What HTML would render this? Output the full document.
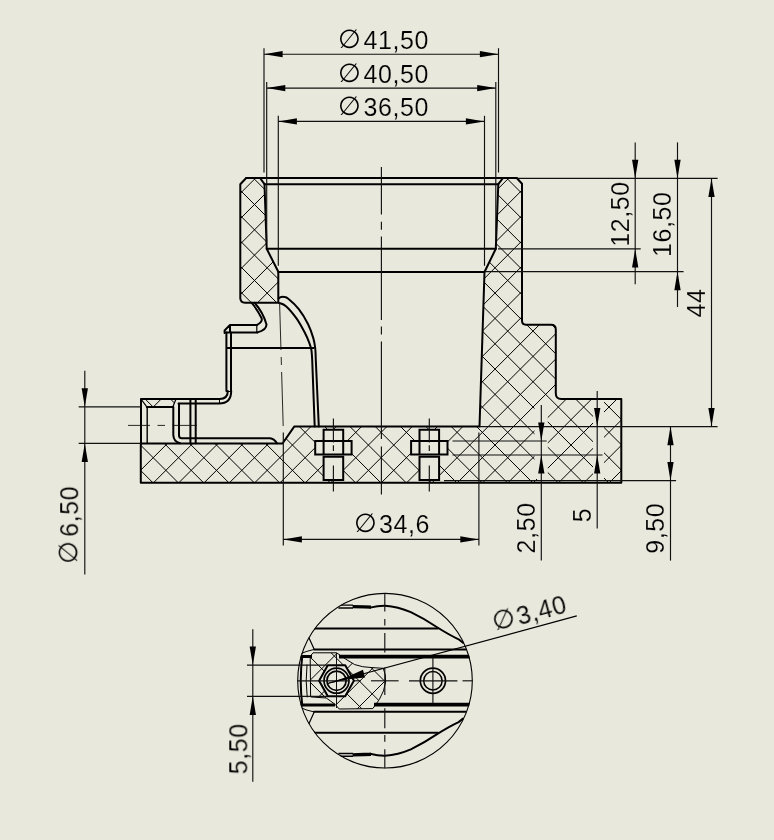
<!DOCTYPE html>
<html lang="en"><head><meta charset="utf-8"><title>Drawing</title>
<style>
html,body{margin:0;padding:0;background:#e8e8dc;}
body{width:774px;height:840px;overflow:hidden;}
svg{display:block;font-family:"Liberation Sans",sans-serif;fill:#000;}
text{stroke:#e8e8dc;stroke-width:0.15px;}
</style></head><body>
<svg width="774" height="840" viewBox="0 0 774 840">
<rect width="774" height="840" fill="#e8e8dc"/>
<defs><clipPath id="hc"><path d="M246.2,178 L260,178 L264.5,184.2 L266.7,248.8 L278.3,271.8 L278.3,302.7 L245,302.7 Q240.3,302.7 240.3,298 L240.3,184.2 Z"/><path d="M503,178 L516.7,178 L522,183.7 L522,320.5 Q522,324.7 526,324.7 L551,324.7 Q555.8,324.7 555.8,329.5 L555.8,393.5 Q555.8,399 561.3,399 L621.3,399 L621.3,482.7 L140.8,482.7 L140.8,443.5 L282.5,443.5 L294.2,426.6 L479.5,426.6 L484.5,272 L495.8,248.8 L498.3,184.2 Z"/><path d="M141,399 L176,399 L172.8,406.9 L146.8,406.9 Z"/></clipPath></defs>
<g clip-path="url(#hc)"><path d="M0,-708.30 L774,65.70 M0,-682.98 L774,91.02 M0,-657.66 L774,116.34 M0,-632.34 L774,141.66 M0,-607.02 L774,166.98 M0,-581.70 L774,192.30 M0,-556.38 L774,217.62 M0,-531.06 L774,242.94 M0,-505.74 L774,268.26 M0,-480.42 L774,293.58 M0,-455.10 L774,318.90 M0,-429.78 L774,344.22 M0,-404.46 L774,369.54 M0,-379.14 L774,394.86 M0,-353.82 L774,420.18 M0,-328.50 L774,445.50 M0,-303.18 L774,470.82 M0,-277.86 L774,496.14 M0,-252.54 L774,521.46 M0,-227.22 L774,546.78 M0,-201.90 L774,572.10 M0,-176.58 L774,597.42 M0,-151.26 L774,622.74 M0,-125.94 L774,648.06 M0,-100.62 L774,673.38 M0,-75.30 L774,698.70 M0,-49.98 L774,724.02 M0,-24.66 L774,749.34 M0,0.66 L774,774.66 M0,25.98 L774,799.98 M0,51.30 L774,825.30 M0,76.62 L774,850.62 M0,101.94 L774,875.94 M0,127.26 L774,901.26 M0,152.58 L774,926.58 M0,177.90 L774,951.90 M0,203.22 L774,977.22 M0,228.54 L774,1002.54 M0,253.86 L774,1027.86 M0,279.18 L774,1053.18 M0,304.50 L774,1078.50 M0,329.82 L774,1103.82 M0,355.14 L774,1129.14 M0,380.46 L774,1154.46 M0,405.78 L774,1179.78 M0,431.10 L774,1205.10 M0,456.42 L774,1230.42 M0,481.74 L774,1255.74 M0,507.06 L774,1281.06 M0,532.38 L774,1306.38 M0,557.70 L774,1331.70 M0,583.02 L774,1357.02 M0,608.34 L774,1382.34 M0,633.66 L774,1407.66 M0,658.98 L774,1432.98 M0,684.30 L774,1458.30 M0,709.62 L774,1483.62 M0,734.94 L774,1508.94 M0,760.26 L774,1534.26 M0,785.58 L774,1559.58 M0,810.90 L774,1584.90 M0,836.22 L774,1610.22 M0,861.54 L774,1635.54 M0,886.86 L774,1660.86 M0,912.18 L774,1686.18 M0,937.50 L774,1711.50 M0,962.82 L774,1736.82 M0,988.14 L774,1762.14 M0,1013.46 L774,1787.46 M0,1038.78 L774,1812.78 M0,1064.10 L774,1838.10 M0,1089.42 L774,1863.42 M0,1114.74 L774,1888.74 M0,1140.06 L774,1914.06 M0,1165.38 L774,1939.38 M0,1190.70 L774,1964.70 M0,1216.02 L774,1990.02 M0,1241.34 L774,2015.34 M0,1266.66 L774,2040.66 M0,1291.98 L774,2065.98 M0,-401.90 L774,-1175.90 M0,-376.58 L774,-1150.58 M0,-351.26 L774,-1125.26 M0,-325.94 L774,-1099.94 M0,-300.62 L774,-1074.62 M0,-275.30 L774,-1049.30 M0,-249.98 L774,-1023.98 M0,-224.66 L774,-998.66 M0,-199.34 L774,-973.34 M0,-174.02 L774,-948.02 M0,-148.70 L774,-922.70 M0,-123.38 L774,-897.38 M0,-98.06 L774,-872.06 M0,-72.74 L774,-846.74 M0,-47.42 L774,-821.42 M0,-22.10 L774,-796.10 M0,3.22 L774,-770.78 M0,28.54 L774,-745.46 M0,53.86 L774,-720.14 M0,79.18 L774,-694.82 M0,104.50 L774,-669.50 M0,129.82 L774,-644.18 M0,155.14 L774,-618.86 M0,180.46 L774,-593.54 M0,205.78 L774,-568.22 M0,231.10 L774,-542.90 M0,256.42 L774,-517.58 M0,281.74 L774,-492.26 M0,307.06 L774,-466.94 M0,332.38 L774,-441.62 M0,357.70 L774,-416.30 M0,383.02 L774,-390.98 M0,408.34 L774,-365.66 M0,433.66 L774,-340.34 M0,458.98 L774,-315.02 M0,484.30 L774,-289.70 M0,509.62 L774,-264.38 M0,534.94 L774,-239.06 M0,560.26 L774,-213.74 M0,585.58 L774,-188.42 M0,610.90 L774,-163.10 M0,636.22 L774,-137.78 M0,661.54 L774,-112.46 M0,686.86 L774,-87.14 M0,712.18 L774,-61.82 M0,737.50 L774,-36.50 M0,762.82 L774,-11.18 M0,788.14 L774,14.14 M0,813.46 L774,39.46 M0,838.78 L774,64.78 M0,864.10 L774,90.10 M0,889.42 L774,115.42 M0,914.74 L774,140.74 M0,940.06 L774,166.06 M0,965.38 L774,191.38 M0,990.70 L774,216.70 M0,1016.02 L774,242.02 M0,1041.34 L774,267.34 M0,1066.66 L774,292.66 M0,1091.98 L774,317.98 M0,1117.30 L774,343.30 M0,1142.62 L774,368.62 M0,1167.94 L774,393.94 M0,1193.26 L774,419.26 M0,1218.58 L774,444.58 M0,1243.90 L774,469.90 M0,1269.22 L774,495.22 M0,1294.54 L774,520.54 M0,1319.86 L774,545.86 M0,1345.18 L774,571.18 M0,1370.50 L774,596.50 M0,1395.82 L774,621.82 M0,1421.14 L774,647.14 M0,1446.46 L774,672.46 M0,1471.78 L774,697.78 M0,1497.10 L774,723.10 M0,1522.42 L774,748.42 M0,1547.74 L774,773.74 M0,1573.06 L774,799.06 M0,1598.38 L774,824.38" stroke="#000" stroke-width="1.0" fill="none"/>
<rect x="323.60" y="429.00" width="19.60" height="51.50" fill="#e8e8dc"/>
<rect x="315.00" y="440.80" width="36.80" height="13.40" fill="#e8e8dc"/>
<rect x="419.50" y="429.00" width="19.60" height="51.50" fill="#e8e8dc"/>
<rect x="410.90" y="440.80" width="36.80" height="13.40" fill="#e8e8dc"/>
<rect x="534.50" y="408.00" width="13.30" height="71.00" fill="#e8e8dc"/>
<rect x="593.00" y="400.00" width="11.00" height="79.00" fill="#e8e8dc"/>
</g>
<path d="M246.2,178 L260,178 L264.5,184.2 L266.7,248.8 L278.3,271.8 L278.3,302.7 L245,302.7 Q240.3,302.7 240.3,298 L240.3,184.2 Z" fill="none" stroke="#000" stroke-width="2.0" stroke-linejoin="round" stroke-linecap="round" />
<path d="M503,178 L516.7,178 L522,183.7 L522,320.5 Q522,324.7 526,324.7 L551,324.7 Q555.8,324.7 555.8,329.5 L555.8,393.5 Q555.8,399 561.3,399 L621.3,399 L621.3,482.7 L140.8,482.7 L140.8,443.5 L282.5,443.5 L294.2,426.6 L479.5,426.6 L484.5,272 L495.8,248.8 L498.3,184.2 Z" fill="none" stroke="#000" stroke-width="2.0" stroke-linejoin="round" stroke-linecap="round" />
<line x1="246.20" y1="178.00" x2="516.70" y2="178.00" stroke="#000" stroke-width="2.0" stroke-linecap="round"/>
<line x1="264.50" y1="184.20" x2="498.30" y2="184.20" stroke="#000" stroke-width="2.0" stroke-linecap="round"/>
<line x1="266.70" y1="248.80" x2="495.80" y2="248.80" stroke="#000" stroke-width="2.0" stroke-linecap="round"/>
<line x1="278.30" y1="272.00" x2="484.50" y2="272.00" stroke="#000" stroke-width="2.0" stroke-linecap="round"/>
<path d="M323.59999999999997,429.8 H343.2 V441 H323.59999999999997 Z" fill="none" stroke="#000" stroke-width="2.0" stroke-linejoin="miter" stroke-linecap="round" />
<path d="M315.2,441 H351.59999999999997 V454.4 H315.2 Z" fill="none" stroke="#000" stroke-width="2.0" stroke-linejoin="miter" stroke-linecap="round" />
<path d="M323.59999999999997,440.8 V454.2 M343.2,440.8 V454.2" fill="none" stroke="#000" stroke-width="2.0" stroke-linejoin="miter" stroke-linecap="round" />
<path d="M323.59999999999997,456.7 H343.2 V480 H323.59999999999997 Z" fill="none" stroke="#000" stroke-width="2.0" stroke-linejoin="miter" stroke-linecap="round" />
<line x1="333.40" y1="418.40" x2="333.40" y2="442.50" stroke="#111" stroke-width="1.15" stroke-linecap="butt"/>
<line x1="333.40" y1="445.30" x2="333.40" y2="451.00" stroke="#111" stroke-width="1.15" stroke-linecap="butt"/>
<line x1="333.40" y1="465.50" x2="333.40" y2="491.50" stroke="#111" stroke-width="1.15" stroke-linecap="butt"/>
<path d="M419.5,429.8 H439.1 V441 H419.5 Z" fill="none" stroke="#000" stroke-width="2.0" stroke-linejoin="miter" stroke-linecap="round" />
<path d="M411.1,441 H447.5 V454.4 H411.1 Z" fill="none" stroke="#000" stroke-width="2.0" stroke-linejoin="miter" stroke-linecap="round" />
<path d="M419.5,440.8 V454.2 M439.1,440.8 V454.2" fill="none" stroke="#000" stroke-width="2.0" stroke-linejoin="miter" stroke-linecap="round" />
<path d="M419.5,456.7 H439.1 V480 H419.5 Z" fill="none" stroke="#000" stroke-width="2.0" stroke-linejoin="miter" stroke-linecap="round" />
<line x1="429.30" y1="418.40" x2="429.30" y2="442.50" stroke="#111" stroke-width="1.15" stroke-linecap="butt"/>
<line x1="429.30" y1="445.30" x2="429.30" y2="451.00" stroke="#111" stroke-width="1.15" stroke-linecap="butt"/>
<line x1="429.30" y1="465.50" x2="429.30" y2="491.50" stroke="#111" stroke-width="1.15" stroke-linecap="butt"/>
<path d="M141,443.5 V399 H219.5 Q227.8,399 227.8,391" fill="none" stroke="#000" stroke-width="2.0" stroke-linejoin="round" stroke-linecap="round" />
<path d="M178.5,403.5 H219 Q231.2,403.5 231.2,391" fill="none" stroke="#000" stroke-width="2.0" stroke-linejoin="round" stroke-linecap="round" />
<path d="M146.8,406.9 H172.8" fill="none" stroke="#000" stroke-width="2.0" stroke-linejoin="round" stroke-linecap="round" />
<path d="M141,399 L146.8,406.9 M176,399 L172.8,406.9" fill="none" stroke="#000" stroke-width="1.2" stroke-linejoin="round" stroke-linecap="round" />
<path d="M147.2,406.9 V443.3" fill="none" stroke="#000" stroke-width="1.4" stroke-linejoin="round" stroke-linecap="round" />
<path d="M173.3,406.9 V435 Q173.6,441.6 180,443.3" fill="none" stroke="#000" stroke-width="2.0" stroke-linejoin="round" stroke-linecap="round" />
<path d="M179,403.8 V435.5 Q179,438.2 181.7,438.2 H270 Q274,438.6 277,443.3" fill="none" stroke="#000" stroke-width="2.0" stroke-linejoin="round" stroke-linecap="round" />
<path d="M190.4,399 V443.3 M195.7,399 V443.3" fill="none" stroke="#000" stroke-width="2.0" stroke-linejoin="round" stroke-linecap="round" />
<path d="M226.4,391 V332.5 M231,391 V332.5" fill="none" stroke="#000" stroke-width="2.0" stroke-linejoin="round" stroke-linecap="round" />
<path d="M226.4,391.5 H231" fill="none" stroke="#000" stroke-width="1" stroke-linejoin="round" stroke-linecap="round" />
<path d="M219.5,399 V403.5" fill="none" stroke="#000" stroke-width="1" stroke-linejoin="round" stroke-linecap="round" />
<path d="M224.6,333 V330.5 L230,324.9 H257 M230,325 V332.4 M226.4,332.4 H257.4" fill="none" stroke="#000" stroke-width="2.0" stroke-linejoin="round" stroke-linecap="round" />
<path d="M256.8,324.9 V332.4" fill="none" stroke="#000" stroke-width="1.2" stroke-linejoin="round" stroke-linecap="round" />
<path d="M257,324.9 Q263,322 261.5,318 Q257,309 251.5,302.7" fill="none" stroke="#000" stroke-width="2.0" stroke-linejoin="round" stroke-linecap="round" />
<path d="M257.4,332.4 Q266.5,330 266.5,324.5 Q263,312 254.5,302.7" fill="none" stroke="#000" stroke-width="2.0" stroke-linejoin="round" stroke-linecap="round" />
<line x1="226.40" y1="348.00" x2="314.50" y2="348.00" stroke="#000" stroke-width="1.9" stroke-linecap="butt"/>
<path d="M278.60,298.50 C278.90,298.28 279.50,297.45 280.40,297.20 C281.30,296.95 282.68,296.73 284.00,297.00 C285.32,297.27 285.83,296.78 288.30,298.80 C290.77,300.82 295.50,304.87 298.80,309.10 C302.10,313.33 305.68,319.37 308.10,324.20 C310.52,329.03 312.12,334.13 313.30,338.10 C314.48,342.07 314.78,344.35 315.20,348.00 C315.62,351.65 315.70,358.00 315.80,360.00 L318.8,426.5" fill="none" stroke="#000" stroke-width="2.0" stroke-linejoin="round" stroke-linecap="round" />
<path d="M279.00,302.90 C280.17,303.45 283.08,303.62 286.00,306.20 C288.92,308.78 293.40,314.05 296.50,318.40 C299.60,322.75 302.47,328.23 304.60,332.30 C306.73,336.37 308.17,339.85 309.30,342.80 C310.43,345.75 310.92,347.13 311.40,350.00 C311.88,352.87 312.07,358.33 312.20,360.00 L314.7,426.5" fill="none" stroke="#000" stroke-width="2.0" stroke-linejoin="round" stroke-linecap="round" />
<line x1="381.40" y1="167.10" x2="381.40" y2="214.60" stroke="#111" stroke-width="1.15" stroke-linecap="butt"/>
<line x1="381.40" y1="221.70" x2="381.40" y2="229.80" stroke="#111" stroke-width="1.15" stroke-linecap="butt"/>
<line x1="381.40" y1="236.50" x2="381.40" y2="319.90" stroke="#111" stroke-width="1.15" stroke-linecap="butt"/>
<line x1="381.40" y1="326.40" x2="381.40" y2="334.60" stroke="#111" stroke-width="1.15" stroke-linecap="butt"/>
<line x1="381.40" y1="341.40" x2="381.40" y2="438.90" stroke="#111" stroke-width="1.15" stroke-linecap="butt"/>
<line x1="381.40" y1="446.40" x2="381.40" y2="494.50" stroke="#111" stroke-width="1.15" stroke-linecap="butt"/>
<line x1="279.60" y1="303.00" x2="283.20" y2="426.00" stroke="#111" stroke-width="0.9" stroke-linecap="butt" stroke-dasharray="47 7 8 7 200"/>
<line x1="128.00" y1="425.40" x2="197.00" y2="425.40" stroke="#111" stroke-width="0.9" stroke-linecap="butt" stroke-dasharray="22 7.5 7.5 7.5 40"/>
<line x1="264.00" y1="48.20" x2="264.00" y2="172.50" stroke="#111" stroke-width="1.15" stroke-linecap="butt"/>
<line x1="498.50" y1="48.20" x2="498.50" y2="172.50" stroke="#111" stroke-width="1.15" stroke-linecap="butt"/>
<line x1="264.00" y1="54.20" x2="498.50" y2="54.20" stroke="#111" stroke-width="1.15" stroke-linecap="butt"/>
<polygon points="264.00,54.20 282.60,51.05 282.60,57.35" fill="#000"/>
<polygon points="498.50,54.20 479.90,57.35 479.90,51.05" fill="#000"/>
<line x1="266.70" y1="82.00" x2="266.70" y2="242.80" stroke="#111" stroke-width="1.15" stroke-linecap="butt"/>
<line x1="495.80" y1="82.00" x2="495.80" y2="242.80" stroke="#111" stroke-width="1.15" stroke-linecap="butt"/>
<line x1="266.70" y1="88.10" x2="495.80" y2="88.10" stroke="#111" stroke-width="1.15" stroke-linecap="butt"/>
<polygon points="266.70,88.10 285.30,84.95 285.30,91.25" fill="#000"/>
<polygon points="495.80,88.10 477.20,91.25 477.20,84.95" fill="#000"/>
<line x1="278.30" y1="115.80" x2="278.30" y2="265.80" stroke="#111" stroke-width="1.15" stroke-linecap="butt"/>
<line x1="484.50" y1="115.80" x2="484.50" y2="265.80" stroke="#111" stroke-width="1.15" stroke-linecap="butt"/>
<line x1="278.30" y1="121.40" x2="484.50" y2="121.40" stroke="#111" stroke-width="1.15" stroke-linecap="butt"/>
<polygon points="278.30,121.40 296.90,118.25 296.90,124.55" fill="#000"/>
<polygon points="484.50,121.40 465.90,124.55 465.90,118.25" fill="#000"/>
<line x1="283.30" y1="432.50" x2="283.30" y2="545.50" stroke="#111" stroke-width="1.15" stroke-linecap="butt"/>
<line x1="478.90" y1="432.50" x2="478.90" y2="545.50" stroke="#111" stroke-width="1.15" stroke-linecap="butt"/>
<line x1="283.30" y1="539.40" x2="478.90" y2="539.40" stroke="#111" stroke-width="1.15" stroke-linecap="butt"/>
<polygon points="283.30,539.40 301.90,536.25 301.90,542.55" fill="#000"/>
<polygon points="478.90,539.40 460.30,542.55 460.30,536.25" fill="#000"/>
<line x1="516.70" y1="178.40" x2="717.60" y2="178.40" stroke="#111" stroke-width="1.15" stroke-linecap="butt"/>
<line x1="498.00" y1="248.90" x2="640.70" y2="248.90" stroke="#111" stroke-width="1.15" stroke-linecap="butt"/>
<line x1="486.00" y1="271.60" x2="683.60" y2="271.60" stroke="#111" stroke-width="1.15" stroke-linecap="butt"/>
<line x1="479.50" y1="426.60" x2="717.60" y2="426.60" stroke="#111" stroke-width="1.15" stroke-linecap="butt"/>
<line x1="452.50" y1="441.00" x2="546.70" y2="441.00" stroke="#111" stroke-width="1.15" stroke-linecap="butt"/>
<line x1="452.50" y1="455.00" x2="602.50" y2="455.00" stroke="#111" stroke-width="1.15" stroke-linecap="butt"/>
<line x1="444.00" y1="480.60" x2="676.10" y2="480.60" stroke="#111" stroke-width="1.15" stroke-linecap="butt"/>
<line x1="635.20" y1="142.40" x2="635.20" y2="284.30" stroke="#111" stroke-width="1.15" stroke-linecap="butt"/>
<polygon points="635.20,178.40 632.05,159.80 638.35,159.80" fill="#000"/>
<polygon points="635.20,248.90 638.35,267.50 632.05,267.50" fill="#000"/>
<line x1="677.50" y1="142.40" x2="677.50" y2="307.00" stroke="#111" stroke-width="1.15" stroke-linecap="butt"/>
<polygon points="677.50,178.40 674.35,159.80 680.65,159.80" fill="#000"/>
<polygon points="677.50,271.60 680.65,290.20 674.35,290.20" fill="#000"/>
<line x1="711.50" y1="178.40" x2="711.50" y2="426.60" stroke="#111" stroke-width="1.15" stroke-linecap="butt"/>
<polygon points="711.50,178.40 714.65,197.00 708.35,197.00" fill="#000"/>
<polygon points="711.50,426.60 708.35,408.00 714.65,408.00" fill="#000"/>
<line x1="670.50" y1="426.60" x2="670.50" y2="560.60" stroke="#111" stroke-width="1.15" stroke-linecap="butt"/>
<polygon points="670.50,426.60 673.65,445.20 667.35,445.20" fill="#000"/>
<polygon points="670.50,480.60 667.35,462.00 673.65,462.00" fill="#000"/>
<line x1="597.20" y1="391.00" x2="597.20" y2="528.50" stroke="#111" stroke-width="1.15" stroke-linecap="butt"/>
<polygon points="597.20,426.60 594.05,408.00 600.35,408.00" fill="#000"/>
<polygon points="597.20,455.00 600.35,473.60 594.05,473.60" fill="#000"/>
<line x1="541.30" y1="405.00" x2="541.30" y2="560.60" stroke="#111" stroke-width="1.15" stroke-linecap="butt"/>
<polygon points="541.30,441.00 538.15,422.40 544.45,422.40" fill="#000"/>
<polygon points="541.30,455.00 544.45,473.60 538.15,473.60" fill="#000"/>
<line x1="78.70" y1="406.80" x2="141.00" y2="406.80" stroke="#111" stroke-width="1.15" stroke-linecap="butt"/>
<line x1="78.70" y1="443.40" x2="141.00" y2="443.40" stroke="#111" stroke-width="1.15" stroke-linecap="butt"/>
<line x1="84.80" y1="370.70" x2="84.80" y2="574.50" stroke="#111" stroke-width="1.15" stroke-linecap="butt"/>
<polygon points="84.80,406.80 81.65,388.20 87.95,388.20" fill="#000"/>
<polygon points="84.80,443.40 87.95,462.00 81.65,462.00" fill="#000"/>
<defs><clipPath id="cc"><circle cx="385.0" cy="680.7" r="87.8"/></clipPath><clipPath id="dc"><path d="M313.4,652.8 L336.6,652.8 Q345,659 354.7,664.6 Q362,667.3 372,667.6 L383.3,668.3 Q386.2,675 385.6,682 Q384.5,691 379.3,699.5 L372.8,708.6 L339.2,709 L335.3,704.5 L326.3,698 L310.6,696.9 L310.2,656.7 Z"/></clipPath></defs>
<g clip-path="url(#cc)">
<g clip-path="url(#dc)"><path d="M280,526.10 L420,666.10 M280,634.80 L420,494.80 M280,551.30 L420,691.30 M280,660.00 L420,520.00 M280,576.50 L420,716.50 M280,685.20 L420,545.20 M280,601.70 L420,741.70 M280,710.40 L420,570.40 M280,626.90 L420,766.90 M280,735.60 L420,595.60 M280,652.10 L420,792.10 M280,760.80 L420,620.80 M280,677.30 L420,817.30 M280,786.00 L420,646.00 M280,702.50 L420,842.50 M280,811.20 L420,671.20 M280,727.70 L420,867.70 M280,836.40 L420,696.40" stroke="#000" stroke-width="1.0" fill="none"/></g>
<path d="M313.4,652.8 L336.6,652.8 Q345,659 354.7,664.6 Q362,667.3 372,667.6 L383.3,668.3 Q386.2,675 385.6,682 Q384.5,691 379.3,699.5 L372.8,708.6 L339.2,709 L335.3,704.5 L326.3,698 L310.6,696.9 L310.2,656.7 Z" fill="none" stroke="#000" stroke-width="1.0" stroke-linejoin="round" stroke-linecap="round" />
<path d="M370,607.6 Q378,605.6 385,605.7 Q398,606.6 410.8,612.1 Q424,618.4 436.7,627.0 Q449,634.8 458.6,639.3 L463,642.8" fill="none" stroke="#000" stroke-width="2.0" stroke-linejoin="round" stroke-linecap="round" />
<path d="M338.4,607.9 L353,607.9" fill="none" stroke="#000" stroke-width="1.5" stroke-linejoin="round" stroke-linecap="butt" />
<path d="M339.6,605.1 L353,605.1" fill="none" stroke="#000" stroke-width="1.4" stroke-linejoin="round" stroke-linecap="butt" />
<path d="M352.6,606.6 L364,606.9 L371,607.1" fill="none" stroke="#000" stroke-width="3.3" stroke-linejoin="round" stroke-linecap="butt" />
<line x1="314.00" y1="628.60" x2="438.50" y2="628.60" stroke="#000" stroke-width="2.0" stroke-linecap="butt"/>
<line x1="313.40" y1="649.60" x2="466.00" y2="649.60" stroke="#000" stroke-width="2.0" stroke-linecap="butt"/>
<path d="M299,654.5 Q306,651.0 313.4,649.6" fill="none" stroke="#000" stroke-width="1.0" stroke-linejoin="round" stroke-linecap="round" />
<line x1="339.00" y1="656.70" x2="470.00" y2="656.70" stroke="#000" stroke-width="3.7" stroke-linecap="butt"/>
<path d="M308.8,637.5 L314.2,649.3" fill="none" stroke="#000" stroke-width="1.2" stroke-linejoin="round" stroke-linecap="round" />
<path d="M370,753.8 Q378,755.8 385,755.7 Q398,754.8 410.8,749.3 Q424,743.0 436.7,734.4 Q449,726.6 458.6,722.1 L463,718.6" fill="none" stroke="#000" stroke-width="2.0" stroke-linejoin="round" stroke-linecap="round" />
<path d="M338.4,753.5 L353,753.5" fill="none" stroke="#000" stroke-width="1.5" stroke-linejoin="round" stroke-linecap="butt" />
<path d="M339.6,756.3 L353,756.3" fill="none" stroke="#000" stroke-width="1.4" stroke-linejoin="round" stroke-linecap="butt" />
<path d="M352.6,754.8 L364,754.5 L371,754.3" fill="none" stroke="#000" stroke-width="3.3" stroke-linejoin="round" stroke-linecap="butt" />
<line x1="314.00" y1="732.80" x2="438.50" y2="732.80" stroke="#000" stroke-width="2.0" stroke-linecap="butt"/>
<line x1="313.40" y1="711.80" x2="466.00" y2="711.80" stroke="#000" stroke-width="2.0" stroke-linecap="butt"/>
<path d="M299,706.9 Q306,710.4 313.4,711.8" fill="none" stroke="#000" stroke-width="1.0" stroke-linejoin="round" stroke-linecap="round" />
<line x1="374.00" y1="704.70" x2="470.00" y2="704.70" stroke="#000" stroke-width="3.7" stroke-linecap="butt"/>
<path d="M308.8,723.9 L314.2,712.1" fill="none" stroke="#000" stroke-width="1.2" stroke-linejoin="round" stroke-linecap="round" />
<line x1="300.00" y1="705.00" x2="335.00" y2="705.00" stroke="#000" stroke-width="3.2" stroke-linecap="butt"/>
<line x1="300.00" y1="656.60" x2="312.00" y2="656.60" stroke="#000" stroke-width="3.0" stroke-linecap="butt"/>
<path d="M302.3,656 Q299.2,680.7 302.3,705.5" fill="none" stroke="#000" stroke-width="2.0" stroke-linejoin="round" stroke-linecap="round" />
<path d="M307,665 Q305.2,680.7 307.2,697" fill="none" stroke="#000" stroke-width="1.0" stroke-linejoin="round" stroke-linecap="round" />
</g>
<circle cx="385.0" cy="680.7" r="87.3" fill="none" stroke="#000" stroke-width="1.1"/>
<polygon points="353.90,680.70 345.20,696.20 327.80,696.20 319.10,680.70 327.80,665.20 345.20,665.20" fill="#e8e8dc" stroke="#000" stroke-width="2.0" stroke-linejoin="round"/>
<circle cx="336.5" cy="680.7" r="12.5" fill="none" stroke="#000" stroke-width="1.7"/>
<circle cx="336.5" cy="680.7" r="9.6" fill="none" stroke="#000" stroke-width="1.7"/>
<circle cx="432.9" cy="680.8" r="12.6" fill="none" stroke="#000" stroke-width="1.7"/>
<circle cx="432.9" cy="680.8" r="9.2" fill="none" stroke="#000" stroke-width="1.5"/>
<line x1="432.90" y1="657.50" x2="432.90" y2="703.50" stroke="#111" stroke-width="1.15" stroke-linecap="butt"/>
<line x1="336.50" y1="653.00" x2="336.50" y2="708.00" stroke="#111" stroke-width="1.0" stroke-linecap="butt"/>
<line x1="384.80" y1="593.20" x2="384.80" y2="611.40" stroke="#111" stroke-width="1.15" stroke-linecap="butt"/>
<line x1="384.80" y1="618.90" x2="384.80" y2="625.40" stroke="#111" stroke-width="1.15" stroke-linecap="butt"/>
<line x1="384.80" y1="632.90" x2="384.80" y2="652.50" stroke="#111" stroke-width="1.15" stroke-linecap="butt"/>
<line x1="384.80" y1="667.50" x2="384.80" y2="695.00" stroke="#111" stroke-width="1.15" stroke-linecap="butt"/>
<line x1="384.80" y1="708.30" x2="384.80" y2="728.30" stroke="#111" stroke-width="1.15" stroke-linecap="butt"/>
<line x1="384.80" y1="735.00" x2="384.80" y2="741.70" stroke="#111" stroke-width="1.15" stroke-linecap="butt"/>
<line x1="384.80" y1="749.20" x2="384.80" y2="768.20" stroke="#111" stroke-width="1.15" stroke-linecap="butt"/>
<line x1="297.50" y1="680.80" x2="348.00" y2="680.80" stroke="#111" stroke-width="1.15" stroke-linecap="butt"/>
<line x1="354.00" y1="680.80" x2="361.00" y2="680.80" stroke="#111" stroke-width="1.15" stroke-linecap="butt"/>
<line x1="371.00" y1="680.80" x2="398.60" y2="680.80" stroke="#111" stroke-width="1.15" stroke-linecap="butt"/>
<line x1="409.00" y1="680.80" x2="457.40" y2="680.80" stroke="#111" stroke-width="1.15" stroke-linecap="butt"/>
<line x1="462.50" y1="680.80" x2="472.50" y2="680.80" stroke="#111" stroke-width="1.15" stroke-linecap="butt"/>
<line x1="247.00" y1="665.10" x2="327.00" y2="665.10" stroke="#111" stroke-width="1.15" stroke-linecap="butt"/>
<line x1="247.00" y1="696.30" x2="327.00" y2="696.30" stroke="#111" stroke-width="1.15" stroke-linecap="butt"/>
<line x1="252.80" y1="629.20" x2="252.80" y2="781.70" stroke="#111" stroke-width="1.15" stroke-linecap="butt"/>
<polygon points="252.80,665.10 249.65,646.50 255.95,646.50" fill="#000"/>
<polygon points="252.80,696.30 255.95,714.90 249.65,714.90" fill="#000"/>
<line x1="327.60" y1="683.48" x2="576.80" y2="615.90" stroke="#000" stroke-width="1.2" stroke-linecap="butt"/>
<polygon points="327.68,683.77 348.21,679.24 365.01,677.38 362.96,669.85 347.53,676.73 327.52,683.19" fill="#000"/>
<defs><filter id="tf" color-interpolation-filters="sRGB" filterUnits="userSpaceOnUse" x="0" y="0" width="774" height="840"><feOffset dx="0" dy="0"/></filter></defs>
<g filter="url(#tf)">
<text y="48.60" font-size="25" letter-spacing="0.6"><tspan x="338.00" dy="-0.6" font-family="'DejaVu Sans', sans-serif" font-size="26.2" letter-spacing="0" stroke="none">∅</tspan><tspan x="363.40" dy="0.6">41,50</tspan></text>
<text y="82.50" font-size="25" letter-spacing="0.6"><tspan x="338.00" dy="-0.6" font-family="'DejaVu Sans', sans-serif" font-size="26.2" letter-spacing="0" stroke="none">∅</tspan><tspan x="363.40" dy="0.6">40,50</tspan></text>
<text y="115.80" font-size="25" letter-spacing="0.6"><tspan x="338.00" dy="-0.6" font-family="'DejaVu Sans', sans-serif" font-size="26.2" letter-spacing="0" stroke="none">∅</tspan><tspan x="363.40" dy="0.6">36,50</tspan></text>
<text y="532.50" font-size="25" letter-spacing="0.6"><tspan x="353.90" dy="-0.6" font-family="'DejaVu Sans', sans-serif" font-size="26.2" letter-spacing="0" stroke="none">∅</tspan><tspan x="379.00" dy="0.6">34,6</tspan></text>
<text transform="translate(629.10 244.70) rotate(-90)" y="0" font-size="25" letter-spacing="0.6"><tspan x="-2.00">12,50</tspan></text>
<text transform="translate(671.40 255.00) rotate(-90)" y="0" font-size="25" letter-spacing="0.6"><tspan x="-2.00">16,50</tspan></text>
<text transform="translate(704.60 316.60) rotate(-90)" y="0" font-size="25" letter-spacing="0.6"><tspan x="-1.00">44</tspan></text>
<text transform="translate(663.70 552.70) rotate(-90)" y="0" font-size="25" letter-spacing="0.6"><tspan x="-1.00">9,50</tspan></text>
<text transform="translate(591.00 521.20) rotate(-90)" y="0" font-size="25" letter-spacing="0.6"><tspan x="-1.00">5</tspan></text>
<text transform="translate(535.40 552.40) rotate(-90)" y="0" font-size="25" letter-spacing="0.6"><tspan x="-1.00">2,50</tspan></text>
<text transform="translate(78.20 535.80) rotate(-90)" y="0" font-size="25" letter-spacing="0.6"><tspan x="-28.10" dy="-0.6" font-family="'DejaVu Sans', sans-serif" font-size="26.2" letter-spacing="0" stroke="none">∅</tspan><tspan x="-1.00" dy="0.6">6,50</tspan></text>
<text transform="translate(247.30 773.30) rotate(-90)" y="0" font-size="25" letter-spacing="0.6"><tspan x="-1.00">5,50</tspan></text>
<text transform="translate(576.80 615.90) rotate(-15.17)" y="-6" font-size="25" letter-spacing="0.6"><tspan x="-83.00" dy="-0.6" font-family="'DejaVu Sans', sans-serif" font-size="26.2" letter-spacing="0" stroke="none">∅</tspan><tspan x="-58.00" dy="0.6">3,40</tspan></text>
</g>
</svg>
</body></html>
